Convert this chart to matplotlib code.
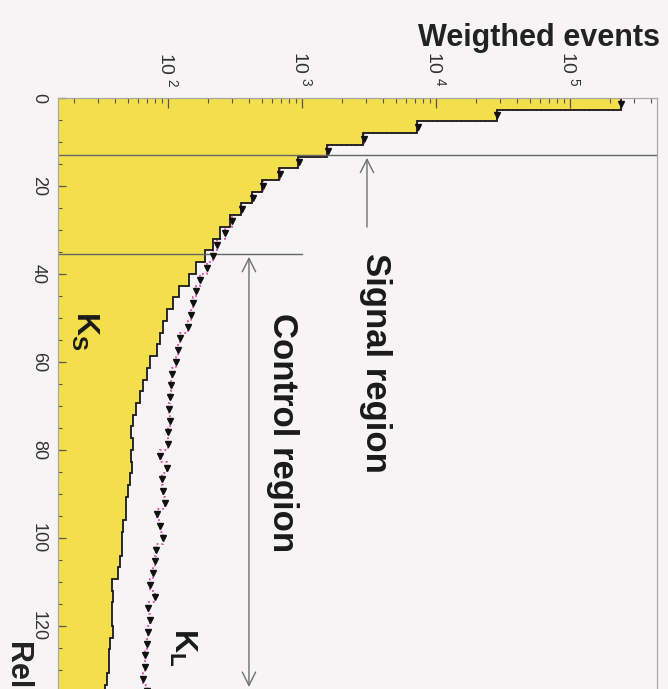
import numpy as np
import matplotlib.pyplot as plt
from matplotlib.ticker import LogLocator, MultipleLocator, FuncFormatter

plt.rcParams['font.family'] = ['Liberation Sans', 'DejaVu Sans']
plt.rcParams['mathtext.fontset'] = 'custom'
plt.rcParams['mathtext.rm'] = 'Liberation Sans'
plt.rcParams['mathtext.bf'] = 'Liberation Sans:bold'

# histogram bins (0..160, 60 bins); only the visible part is filled in
bin_width = 8.0 / 3.0

# K_S weighted events per bin (yellow histogram)
ks_events = [2.4e5, 2.85e4, 7.2e3, 2.85e3, 1.54e3, 935, 675, 503, 424, 351,
             290, 245, 217, 189, 162, 143, 121, 109, 98, 92,
             87, 83, 73, 70, 65, 62, 58, 55, 53, 55,
             53, 54, 52, 50, 49, 49, 46, 45, 45, 44,
             42, 38, 39, 38, 38, 39, 37, 36, 36, 35,
             34, 34]

# K_L weighted events per bin (markers)
kl_events = [2.4e5, 2.85e4, 7.3e3, 2.9e3, 1.56e3, 950, 680, 510, 430, 355,
             300, 265, 232, 217, 195, 173, 162, 154, 148, 140,
             122, 119, 115, 108, 105, 103, 102, 103, 100, 100,
             87, 98, 90, 92, 95, 83, 87, 92, 81, 80,
             77, 73, 80, 71, 73, 71, 70, 67, 67, 65,
             70]

y_ticks = [0, 20, 40, 60, 80, 100, 120]

signal_cut = 13.0
control_cut = 35.5
control_end = 134.5

edges = np.arange(len(ks_events) + 1) * bin_width
kl_edges = np.arange(len(kl_events) + 1) * bin_width
centers = (np.arange(len(kl_events)) + 0.5) * bin_width

bg = '#f6f4f5'
fig = plt.figure(figsize=(6.68, 6.89), dpi=100, facecolor=bg)
ax = fig.add_axes([0.0868, -0.164, 0.8967, 1.022])
ax.set_facecolor(bg)

ax.set_xscale('log')
ax.set_xlim(15.1, 4.46e5)
ax.set_ylim(160, 0)

ax.stairs(ks_events, edges, orientation='horizontal', baseline=1,
          fill=True, color='#f3df4c', zorder=1)
ax.stairs(kl_events, kl_edges, orientation='horizontal', baseline=None,
          color='#e048a8', ls=':', lw=1.3, zorder=1.5)
ax.stairs(ks_events, edges, orientation='horizontal', baseline=1,
          fill=False, color='#1a1a1a', lw=1.3, zorder=2)
ax.plot(kl_events, centers, ls='none', marker='v', ms=3.8,
        mfc='#111111', mec='#111111', zorder=4)

# region boundaries
ax.plot([15.1, 4.46e5], [signal_cut, signal_cut], color='#666666', lw=1.0, zorder=2.5)
ax.plot([15.1, 1000], [control_cut, control_cut], color='#666666', lw=1.0, zorder=2.5)

ax.annotate('', xy=(3055, signal_cut), xytext=(3055, 30),
            arrowprops=dict(arrowstyle='->', color='#707070', lw=1.0,
                            mutation_scale=24))
ax.annotate('', xy=(402, control_cut), xytext=(402, control_end),
            arrowprops=dict(arrowstyle='<->', color='#707070', lw=1.0,
                            mutation_scale=24))

ax.text(3510, 35.2, 'Signal region', rotation=-90, ha='center', va='top',
        fontsize=25, fontweight='bold', color='#1a1a1a')
ax.text(721, 48.9, 'Control region', rotation=-90, ha='center', va='top',
        fontsize=25, fontweight='bold', color='#1a1a1a')
ax.text(24, 48.5, r'$\mathbf{K_S}$', rotation=-90, ha='center', va='top',
        fontsize=23, color='#1a1a1a')
ax.text(129, 120.5, r'$\mathbf{K_L}$', rotation=-90, ha='center', va='top',
        fontsize=23, color='#1a1a1a')

# axes styling
for s in ax.spines.values():
    s.set_color('#a8a8a8')
    s.set_linewidth(0.9)

ax.xaxis.tick_top()
ax.xaxis.set_major_locator(LogLocator(base=10, numticks=10))
ax.xaxis.set_minor_locator(LogLocator(base=10, subs=np.arange(2, 10), numticks=10))
ax.xaxis.set_major_formatter(FuncFormatter(
    lambda v, pos: r'$\mathdefault{10^{\ %d}}$' % round(np.log10(v))))
ax.set_yticks(y_ticks)
ax.yaxis.set_minor_locator(MultipleLocator(5))
ax.tick_params(axis='x', which='major', direction='in', length=7, width=0.9,
               color='#555555', labelrotation=-90, labelsize=14, pad=8,
               labelcolor='#333333')
ax.tick_params(axis='x', which='minor', direction='in', length=3.5, width=0.8,
               color='#555555')
ax.tick_params(axis='y', which='major', direction='in', length=6, width=0.9,
               color='#555555', labelrotation=-90, labelsize=13, pad=8,
               labelcolor='#333333')
ax.tick_params(axis='y', which='minor', direction='in', length=3, width=0.8,
               color='#555555')
for lab in ax.get_yticklabels():
    lab.set_va('center')

fig.text(0.988, 1 - 38 / 689, 'Weigthed events', ha='right', va='center',
         fontsize=22, fontweight='bold', color='#222222')
fig.text(17 / 668, 1 - 642 / 689, 'Relative', rotation=-90, ha='center',
         va='top', fontsize=22, fontweight='bold', color='#222222')

fig.savefig('out.png', dpi=100, facecolor=bg)
